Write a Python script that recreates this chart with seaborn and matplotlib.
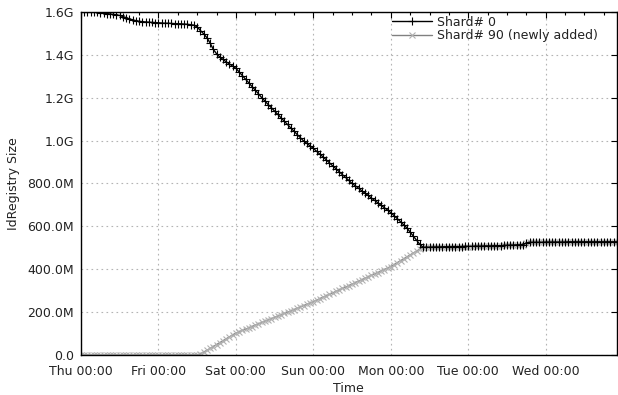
import pandas as pd
import numpy as np
import matplotlib
matplotlib.use("Agg")
import matplotlib.pyplot as plt
import matplotlib.dates as mdates
from matplotlib.ticker import FuncFormatter, MultipleLocator
import seaborn as sns

# hourly samples, values in MB, starting Thu 00:00
shard0 = [1602, 1601, 1601, 1600, 1600, 1598, 1596, 1594, 1592, 1590, 1588, 1586,
          1583, 1578, 1573, 1567, 1563, 1559, 1556, 1554, 1553, 1552, 1551, 1550,
          1549, 1548, 1547, 1547, 1546, 1545, 1545, 1544, 1543, 1542, 1540, 1538,
          1530, 1513, 1498, 1480, 1455, 1425, 1405, 1390, 1378, 1367, 1357, 1347,
          1337, 1320, 1303, 1286, 1269, 1252, 1235, 1218, 1200, 1184, 1168, 1153,
          1137, 1122, 1106, 1090, 1075, 1059, 1044, 1028, 1013, 998, 987, 975,
          964, 950, 937, 924, 910, 896, 882, 869, 855, 841, 828, 814,
          800, 789, 778, 766, 755, 744, 732, 721, 710, 698, 687, 676,
          664, 650, 636, 622, 607, 592, 573, 554, 535, 516, 503, 503,
          503, 504, 504, 504, 505, 505, 505, 505, 506, 506, 506, 507,
          507, 507, 508, 508, 508, 509, 509, 509, 510, 510, 510, 512,
          512, 513, 513, 514, 514, 515, 523, 526, 526, 526, 526, 526,
          527, 527, 527, 527, 527, 527, 527, 528, 528, 528, 528, 528,
          528, 528, 528, 528, 528, 528, 528, 528, 528, 528, 528]

shard90 = [0] * 36 + [
          0, 6, 14, 22, 31, 40, 49, 58, 67, 76, 85, 94,
          103, 109, 115, 121, 127, 133, 140, 146, 152, 158, 164, 170,
          176, 182, 188, 194, 200, 206, 212, 218, 225, 231, 237, 243,
          249, 256, 263, 270, 277, 283, 290, 297, 304, 311, 317, 324,
          331, 338, 345, 351, 358, 365, 372, 379, 385, 392, 399, 406,
          413, 422, 431, 440, 449, 458, 467, 476, 485, 494, 501, 502,
          502, 503, 503, 503, 504, 504, 504, 504, 505, 505, 505, 506,
          506, 506, 507, 507, 507, 508, 508, 508, 509, 509, 509, 511,
          511, 512, 512, 513, 513, 514, 522, 525, 525, 525, 525, 525,
          526, 526, 526, 526, 526, 526, 526, 527, 527, 527, 527, 527,
          527, 527, 527, 527, 527, 527, 527, 527, 527, 527, 527]

start = pd.Timestamp("2010-01-07 00:00")  # a Thursday
times = pd.date_range(start, periods=len(shard0), freq="h")
times90 = pd.date_range(start, periods=len(shard90), freq="h")

df0 = pd.DataFrame({"time": times, "size": np.array(shard0) * 1e6})
df90 = pd.DataFrame({"time": times90, "size": np.array(shard90) * 1e6})

sns.set_style("white")
plt.rcParams["font.family"] = ["DejaVu Sans"]
plt.rcParams["font.size"] = 9

fig = plt.figure(figsize=(6.18, 3.95), dpi=100)
ax = fig.add_axes([0.131, 0.101, 0.867, 0.869])

sns.lineplot(x="time", y="size", data=df90, ax=ax, color="#808080", lw=1,
             marker="x", ms=4.5, mew=0.8, mec="#b0b0b0", label="Shard# 90 (newly added)")
sns.lineplot(x="time", y="size", data=df0, ax=ax, color="black", lw=1,
             marker="+", ms=5.5, mew=0.8, mec="black", label="Shard# 0")

def size_fmt(v, pos):
    if v == 0:
        return "0.0"
    if v >= 1e9 - 1:
        return "%.1fG" % (v / 1e9)
    return "%.1fM" % (v / 1e6)

ax.set_ylim(0, 1.6e9)
ax.yaxis.set_major_locator(MultipleLocator(2e8))
ax.yaxis.set_major_formatter(FuncFormatter(size_fmt))

ax.set_xlim(start, start + pd.Timedelta(hours=166))
ax.xaxis.set_major_locator(mdates.DayLocator())
ax.xaxis.set_minor_locator(mdates.HourLocator(byhour=[6, 12, 18]))
ax.xaxis.set_major_formatter(mdates.DateFormatter("%a %H:%M"))

ax.grid(True, which="major", ls=(0, (1.5, 3)), color="#b4b4b4", lw=0.8)
ax.tick_params(which="both", direction="in", top=True, right=True, colors="black",
               labelcolor="#222222", labelsize=9)
ax.tick_params(axis="x", which="major", pad=7)
ax.tick_params(axis="y", which="major", pad=5)
ax.tick_params(which="major", length=4, width=0.8)
ax.tick_params(which="minor", length=2.5, width=0.8)
for s in ax.spines.values():
    s.set_color("black")
    s.set_linewidth(1)

ax.set_xlabel("Time", fontsize=9, color="#222222", labelpad=3)
ax.set_ylabel("IdRegistry Size", fontsize=9, color="#222222", labelpad=5)

h, l = ax.get_legend_handles_labels()
ax.legend(h[::-1], l[::-1], loc="upper right", bbox_to_anchor=(0.985, 1.022), frameon=False,
          fontsize=9, handlelength=3.2, handletextpad=0.4, labelspacing=0.05,
          labelcolor="#222222")

fig.savefig("out.png", dpi=100)
